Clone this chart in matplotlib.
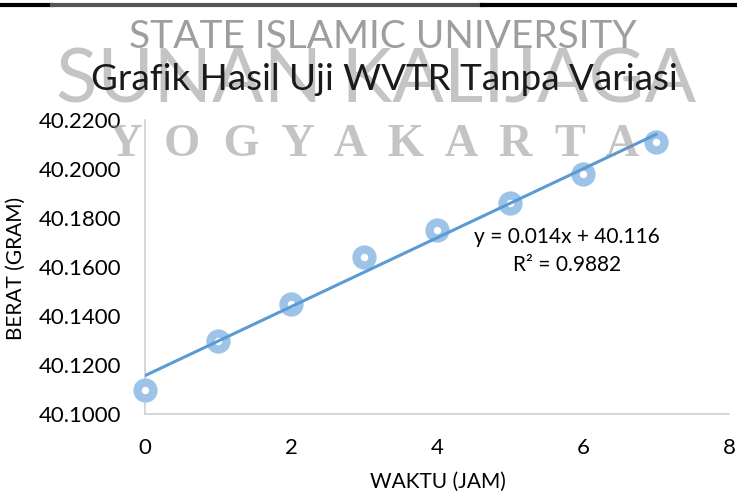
import matplotlib.pyplot as plt
import numpy as np

waktu = [0, 1, 2, 3, 4, 5, 6, 7]
berat = [40.110, 40.130, 40.145, 40.164, 40.175, 40.186, 40.198, 40.211]
yticks = [40.10, 40.12, 40.14, 40.16, 40.18, 40.20, 40.22]
xticks = [0, 2, 4, 6, 8]
persamaan = "y = 0.014x + 40.116\nR² = 0.9882"

plt.rcParams['font.family'] = ['Lato', 'DejaVu Sans']

fig = plt.figure(figsize=(7.37, 4.93), dpi=100)
ax = fig.add_axes([0.1967, 0.1602, 0.7923, 0.5964])

# watermark from the scanned page (semi-transparent so the plot shows through)
fig.text(0.519, 0.925, "STATE ISLAMIC UNIVERSITY", ha='center', va='center',
         fontsize=28, color='#9e9e9e', zorder=0)
fig.text(0.51, 0.835, "SUNAN KALIJAGA", ha='center', va='center',
         fontsize=55, color='#8a8a8a', alpha=0.5, zorder=0)
fig.text(0.508, 0.706, "Y  O  G  Y  A  K  A  R  T  A", ha='center', va='center',
         fontsize=33.5, color='#8a8a8a', alpha=0.5, family='Liberation Serif',
         weight='bold', zorder=5)
fig.add_artist(plt.Line2D([0, 52 / 737], [0.99, 0.99], color='black', lw=3))
fig.add_artist(plt.Line2D([52 / 737, 482 / 737], [0.99, 0.99], color='#555555', lw=3))
fig.add_artist(plt.Line2D([482 / 737, 1], [0.99, 0.99], color='black', lw=3))

fig.text(0.522, 0.838, "Grafik Hasil Uji WVTR Tanpa Variasi", ha='center', va='center',
         fontsize=26.5, color='#1a1a1a')

ax.patch.set_alpha(0)
ax.plot(waktu, berat, 'o', ms=11.5, mfc='white', mec='#9dc3e6', mew=6, clip_on=False, zorder=3)

slope, intercept = np.polyfit(waktu, berat, 1)
xs = np.array([waktu[0], waktu[-1]])
ax.plot(xs, slope * xs + intercept, color='#5b9bd5', lw=2.2, zorder=4)
ax.text(5.78, 40.1665, persamaan, ha='center', va='center', fontsize=15, linespacing=1.45)

ax.set_xlim(0, 8)
ax.set_ylim(40.10, 40.22)
ax.set_xticks(xticks)
ax.set_yticks(yticks)
ax.set_yticklabels(['{:.4f}'.format(v) for v in yticks])
ax.tick_params(length=0, labelsize=16)
ax.tick_params(axis='y', pad=17)
ax.tick_params(axis='x', pad=17)
for s in ['top', 'right']:
    ax.spines[s].set_visible(False)
for s in ['left', 'bottom']:
    ax.spines[s].set_color('#d0d0d0')
    ax.spines[s].set_linewidth(1.2)

ax.set_xlabel("WAKTU (JAM)", fontsize=15)
ax.set_ylabel("BERAT (GRAM)", fontsize=15)
ax.xaxis.set_label_coords(0.501, -0.197)
ax.yaxis.set_label_coords(-0.204, 0.495)

fig.savefig('out.png', dpi=100)
